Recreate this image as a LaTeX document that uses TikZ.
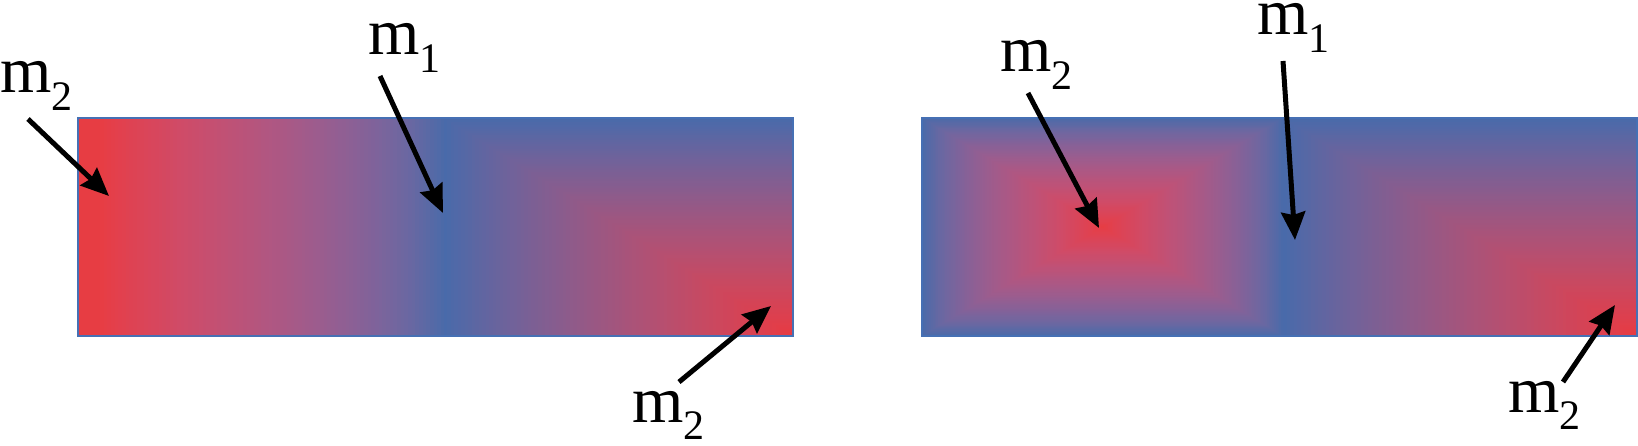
\documentclass[tikz,border=0pt]{standalone}
\usepackage{fontspec}
\setmainfont{Liberation Serif}
\usetikzlibrary{arrows.meta}
\definecolor{edgeblue}{RGB}{70,112,180}
\newcommand\lbl[2]{#1\raisebox{-17.5pt}{\fontsize{42}{42}\selectfont #2}}
% t = share of blue, mixed in linear light between red (232,58,64) and blue (72,106,170)
\newcommand\setmix[1]{%
  \pgfmathsetmacro\mixR{((#1)*0.0648+(1-(#1))*0.8069)^(0.4545)}%
  \pgfmathsetmacro\mixG{((#1)*0.1441+(1-(#1))*0.0423)^(0.4545)}%
  \pgfmathsetmacro\mixB{((#1)*0.4020+(1-(#1))*0.0518)^(0.4545)}%
  \definecolor{cur}{rgb}{\mixR,\mixG,\mixB}}
% milder mix (gamma 1.6)
\newcommand\setmixs[1]{%
  \pgfmathsetmacro\mixR{((#1)*0.1322+(1-(#1))*0.8600)^(0.625)}%
  \pgfmathsetmacro\mixG{((#1)*0.2454+(1-(#1))*0.0938)^(0.625)}%
  \pgfmathsetmacro\mixB{((#1)*0.5227+(1-(#1))*0.1096)^(0.625)}%
  \definecolor{cur}{rgb}{\mixR,\mixG,\mixB}}
\begin{document}
\begin{tikzpicture}[x=1pt,y=-1pt,
  lab/.style={anchor=base west,inner sep=0pt,font=\fontsize{66}{70}\selectfont},
  ptr/.style={line width=5pt,-{Stealth[length=28pt,width=24pt,inset=3pt]}},
  frame/.style={draw=edgeblue,line width=2pt}]
\useasboundingbox (0,0) rectangle (1638,446);

% ---- left bar: linear part (red held over the first few percent) ----
\foreach \i in {0,...,99}{
  \pgfmathsetmacro\t{max(0,min(1,((\i+0.5)/100-0.06)/0.94))}
  \setmix{\t}
  \fill[cur] ({78+\i*3.665},118) rectangle ({78+(\i+1)*3.665+0.6},336);
}
% ---- left bar: from-corner part ----
\foreach \i in {0,...,99}{
  \pgfmathsetmacro\t{(100-\i)/100}
  \setmixs{\t}
  \fill[cur] ({793-\t*349},{336-\t*218}) rectangle (793,336);
}
\draw[frame] (78,118) rectangle (793,336);

% ---- right bar: from-center part ----
\foreach \i in {0,...,99}{
  \pgfmathsetmacro\t{(100-\i)/100}
  \setmix{\t}
  \fill[cur] ({1102.5-\t*180.5},{227-\t*109}) rectangle ({1102.5+\t*180.5},{227+\t*109});
}
% ---- right bar: from-corner part ----
\foreach \i in {0,...,99}{
  \pgfmathsetmacro\t{(100-\i)/100}
  \setmixs{\t}
  \fill[cur] ({1637-\t*354},{336-\t*218}) rectangle (1637,336);
}
\draw[frame] (922,118) rectangle (1637,336);

% ---- labels ----
\node[lab] (la) at (0,93)    {\lbl{m}{2}};
\node[lab] (lb) at (368,55)  {\lbl{m}{1}};
\node[lab] (lc) at (632,422) {\lbl{m}{2}};
\node[lab] (ld) at (1000,72) {\lbl{m}{2}};
\node[lab] (le) at (1257,35) {\lbl{m}{1}};
\node[lab] (lf) at (1508,412){\lbl{m}{2}};

% ---- arrows ----
\coordinate (ta) at (28,119);   \coordinate (ha) at (109,196);
\coordinate (tb) at (380,76);   \coordinate (hb) at (443,213);
\coordinate (tc) at (679,382);  \coordinate (hc) at (771,306);
\coordinate (td) at (1028,93);  \coordinate (hd) at (1099,228);
\coordinate (te) at (1283,61);  \coordinate (he) at (1295,240);
\coordinate (tf) at (1563,382); \coordinate (hf) at (1615,305);
\draw[ptr] (ta) -- (ha);
\draw[ptr] (tb) -- (hb);
\draw[ptr] (tc) -- (hc);
\draw[ptr] (td) -- (hd);
\draw[ptr] (te) -- (he);
\draw[ptr] (tf) -- (hf);
\end{tikzpicture}
\end{document}
